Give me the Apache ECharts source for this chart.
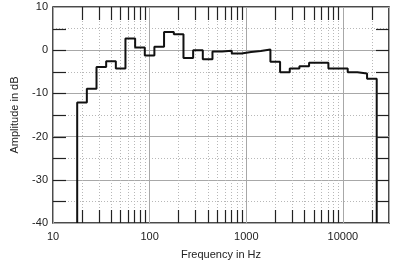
<!DOCTYPE html>
<html><head><meta charset="utf-8">
<script src="https://cdn.jsdelivr.net/npm/echarts@6/dist/echarts.min.js"></script>
<style>html,body{margin:0;padding:0;background:#fff}#c{width:400px;height:268px}</style>
</head><body><div id="c"></div>
<script>
// 1/3-octave band edges (Hz) and band levels (dB)
const bandEdges = [17.8,22.4,28.2,35.5,44.7,56.2,70.8,89.1,112,141,178,224,282,355,447,562,708,891,1122,1413,1778,2239,2818,3548,4467,5623,7079,8913,11220,14125,17783,22387];
const bandLevels = [-12.1,-8.9,-3.9,-2.55,-4.25,2.7,0.6,-1.2,0.8,4.2,3.7,-1.8,0,-2.1,-0.3,-0.15,-0.75,-0.4,-0.2,0.15,-2.7,-5.1,-4.25,-3.7,-2.9,-2.9,-4.25,-4.25,-5.1,-5.4,-6.6];
const xTickLabels = ['10','100','1000','10000'];
const yTickLabels = ['-40','-30','-20','-10','0','10'];
const xMin = 10, xMax = 30000, yMin = -40, yMax = 10;

const lineData = [[bandEdges[0], yMin]];
for (let i = 0; i < bandLevels.length; i++) lineData.push([bandEdges[i], bandLevels[i]]);
lineData.push([bandEdges[bandEdges.length-1], bandLevels[bandLevels.length-1]]);
lineData.push([bandEdges[bandEdges.length-1], yMin]);

// minor frequency grid positions (2..9 x decade)
const minorFreqs = [];
for (let d = 10; d <= 10000; d *= 10) for (let k = 2; k <= 9; k++) { const f = k*d; if (f < xMax) minorFreqs.push(f); }

const W = 400, H = 268;
const G = {left:53, top:7, right:11, bottom:45};
const TICK = 13;
const gridDotted = {color:'#b8b8b8', type:[1,2], width:1};
const tickStyle = {color:'#222', type:'solid', width:1.2};

const font = 'Liberation Sans, Arial, Helvetica, sans-serif';
const chart = echarts.init(document.getElementById('c'), null, {renderer:'canvas'});
function build(mlData, graphics) {
  return {
    animation:false,
    backgroundColor:'#fff',
    grid:Object.assign({show:true, borderColor:'#111', borderWidth:1.5, backgroundColor:'transparent'}, G),
    xAxis:{
      type:'log', logBase:10, min:xMin, max:xMax,
      name:'Frequency in Hz', nameLocation:'middle', nameGap:26,
      nameTextStyle:{fontFamily:font, fontSize:11, color:'#222'},
      axisLine:{show:false}, axisTick:{show:false},
      axisLabel:{fontFamily:font, fontSize:11, color:'#222', margin:8,
        formatter: v => { const s = String(Math.round(v)); return xTickLabels.includes(s) ? s : ''; }},
      splitLine:{show:true, lineStyle:{color:'#a8a8a8', width:1}}
    },
    yAxis:{
      type:'value', min:yMin, max:yMax, interval:10,
      axisLine:{show:false}, axisTick:{show:false},
      minorTick:{show:false, splitNumber:2},
      name:'Amplitude in dB', nameLocation:'middle', nameGap:33,
      nameTextStyle:{fontFamily:font, fontSize:11, color:'#222'},
      axisLabel:{fontFamily:font, fontSize:11, color:'#222', margin:5,
        formatter: v => yTickLabels[Math.round((v - yMin)/10)]},
      splitLine:{show:true, lineStyle:{color:'#a8a8a8', width:1}},
      minorSplitLine:{show:true, lineStyle:gridDotted}
    },
    graphic:{elements:graphics},
    series:[
      {type:'line', data:[], z:1, silent:true,
       markLine:{silent:true, symbol:'none', label:{show:false}, animation:false, data:mlData}},
      {type:'line', data:lineData, step:'end', symbol:'none', z:5, clip:false,
       lineStyle:{color:'#111', width:2}}
    ]
  };
}
chart.setOption(build([], []));
// tick lengths in data units via the library's own scales
const pB = chart.convertFromPixel('grid', [G.left + TICK, H - G.bottom - TICK]);
const pT = chart.convertFromPixel('grid', [W - G.right - TICK, G.top + TICK]);
const yB = pB[1], yT = pT[1];
const mlData = [];
minorFreqs.forEach(f => {
  mlData.push({xAxis: f, lineStyle: gridDotted});
  mlData.push([{coord:[f, yMin], lineStyle: tickStyle},{coord:[f, yB]}]);
  mlData.push([{coord:[f, yMax], lineStyle: tickStyle},{coord:[f, yT]}]);
});
// inward y ticks every 5 dB on both sides, placed with the y axis scale
const graphics = [];
const xLeft = G.left, xRight = W - G.right;
for (let v = yMin + 5; v < yMax; v += 5) {
  const py = Math.round(chart.convertToPixel({yAxisIndex:0}, v)) + 0.5;
  graphics.push({type:'line', silent:true, z:10,
    shape:{x1:xLeft, y1:py, x2:xLeft + TICK, y2:py}, style:{stroke:'#222', lineWidth:1.2}});
  graphics.push({type:'line', silent:true, z:10,
    shape:{x1:xRight - TICK, y1:py, x2:xRight, y2:py}, style:{stroke:'#222', lineWidth:1.2}});
}
chart.setOption(build(mlData, graphics), true);
</script></body></html>
